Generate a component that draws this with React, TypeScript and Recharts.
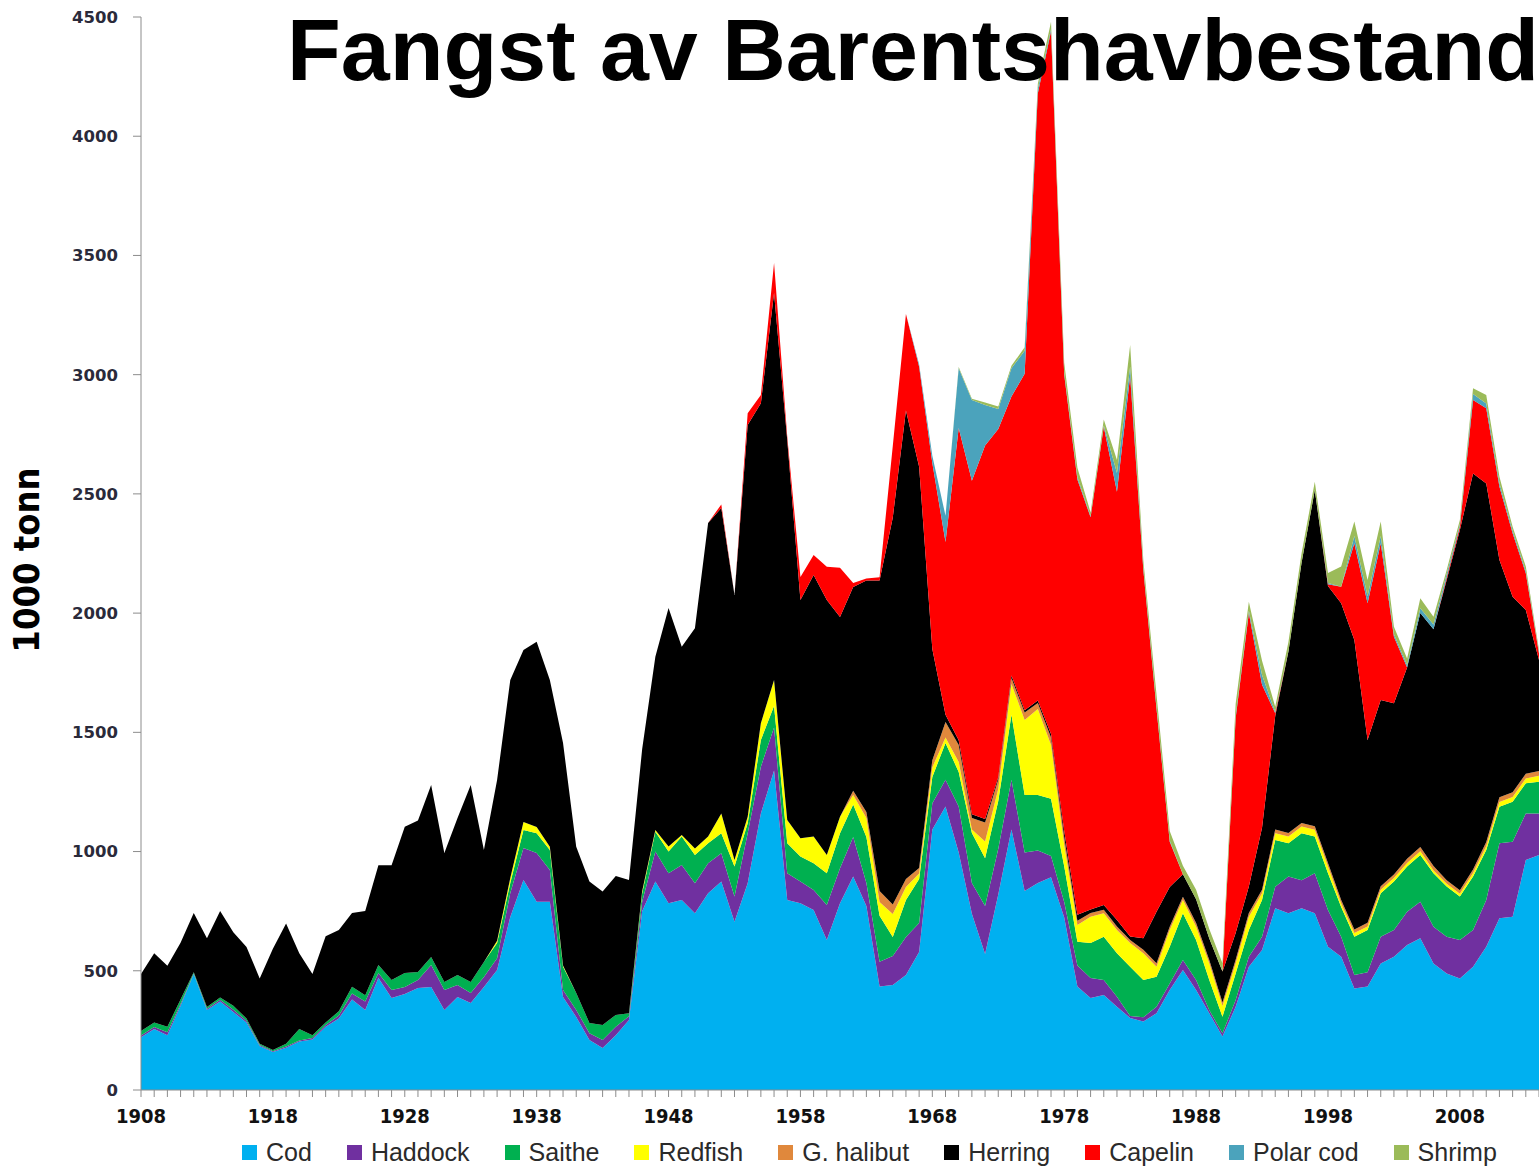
import { AreaChart, Area, XAxis, YAxis } from "recharts";

// Fangst av Barentshavbestand, 1000 tonn per år
const years = [
  1908, 1909, 1910, 1911, 1912, 1913, 1914, 1915, 1916, 1917,
  1918, 1919, 1920, 1921, 1922, 1923, 1924, 1925, 1926, 1927,
  1928, 1929, 1930, 1931, 1932, 1933, 1934, 1935, 1936, 1937,
  1938, 1939, 1940, 1941, 1942, 1943, 1944, 1945, 1946, 1947,
  1948, 1949, 1950, 1951, 1952, 1953, 1954, 1955, 1956, 1957,
  1958, 1959, 1960, 1961, 1962, 1963, 1964, 1965, 1966, 1967,
  1968, 1969, 1970, 1971, 1972, 1973, 1974, 1975, 1976, 1977,
  1978, 1979, 1980, 1981, 1982, 1983, 1984, 1985, 1986, 1987,
  1988, 1989, 1990, 1991, 1992, 1993, 1994, 1995, 1996, 1997,
  1998, 1999, 2000, 2001, 2002, 2003, 2004, 2005, 2006, 2007,
  2008, 2009, 2010, 2011, 2012, 2013, 2014,
];

const cod = [
  221, 256, 230, 353, 486, 336, 371, 327, 283, 185,
  159, 177, 203, 212, 265, 300, 380, 336, 470, 386,
  403, 428, 432, 336, 390, 365, 432, 503, 726, 881,
  789, 789, 390, 306, 210, 176, 230, 294, 750, 874,
  783, 797, 741, 825, 874, 706, 867, 1160, 1340, 797,
  783, 755, 629, 783, 895, 772, 434, 440, 482, 579,
  1093, 1189, 996, 739, 570, 820, 1093, 835, 868, 892,
  723, 434, 386, 398, 349, 302, 287, 322, 419, 503,
  419, 322, 224, 349, 517, 587, 762, 741, 762, 741,
  601, 559, 426, 434, 531, 559, 608, 636, 531, 489,
  468, 517, 601, 720, 727, 965, 986,
];

const haddock = [
  8, 8, 12, 8, 3, 5, 7, 10, 7, 4,
  4, 5, 5, 6, 8, 12, 25, 35, 21, 33,
  29, 33, 92, 83, 50, 42, 42, 50, 100, 134,
  205, 134, 29, 30, 28, 34, 35, 15, 40, 126,
  126, 147, 126, 126, 119, 105, 210, 196, 180, 112,
  91, 84, 147, 147, 166, 96, 104, 122, 160, 121,
  110, 112, 193, 129, 202, 192, 208, 161, 136, 89,
  65, 88, 84, 63, 42, 8, 18, 27, 28, 42,
  42, 13, 14, 28, 42, 56, 90, 154, 118, 168,
  154, 84, 56, 60, 112, 112, 140, 154, 154, 154,
  161, 154, 196, 315, 314, 195, 174,
];

const saithe = [
  18, 19, 23, 19, 5, 7, 10, 16, 10, 5,
  5, 12, 48, 12, 10, 18, 28, 26, 33, 42,
  59, 34, 34, 34, 42, 46, 63, 63, 42, 75,
  83, 84, 98, 71, 43, 63, 50, 13, 35, 83,
  91, 119, 119, 84, 84, 126, 42, 112, 90, 126,
  105, 112, 133, 147, 136, 193, 193, 80, 155, 185,
  110, 154, 145, 210, 200, 200, 273, 241, 233, 240,
  150, 100, 146, 182, 182, 207, 156, 126, 154, 196,
  168, 126, 69, 112, 112, 154, 196, 140, 197, 154,
  154, 124, 161, 177, 182, 203, 189, 196, 224, 210,
  182, 224, 210, 153, 168, 126, 133,
];

const redfish = [
  0, 0, 0, 0, 0, 0, 0, 0, 0, 0,
  0, 0, 0, 0, 0, 0, 0, 0, 0, 0,
  0, 0, 0, 0, 0, 0, 0, 10, 21, 34,
  26, 13, 5, 0, 0, 0, 0, 0, 10, 7,
  21, 6, 27, 28, 83, 28, 27, 70, 110, 97,
  77, 112, 77, 69, 40, 80, 57, 96, 54, 23,
  40, 23, 42, 15, 70, 50, 129, 315, 361, 226,
  90, 70, 111, 98, 98, 100, 112, 42, 70, 56,
  56, 70, 45, 42, 56, 28, 29, 28, 28, 28,
  28, 15, 15, 15, 15, 15, 15, 15, 12, 12,
  12, 15, 15, 20, 20, 20, 25,
];

const halibut = [
  0, 0, 0, 0, 0, 0, 0, 0, 0, 0,
  0, 0, 0, 0, 0, 0, 0, 0, 0, 0,
  0, 0, 0, 0, 0, 0, 0, 0, 0, 0,
  0, 0, 0, 0, 0, 0, 0, 0, 0, 0,
  0, 0, 0, 0, 0, 0, 0, 0, 0, 0,
  0, 0, 0, 0, 18, 25, 47, 40, 34, 23,
  30, 65, 71, 48, 80, 40, 25, 31, 25, 31,
  33, 18, 15, 15, 15, 12, 15, 15, 14, 13,
  15, 14, 15, 15, 15, 15, 15, 15, 15, 15,
  15, 15, 15, 15, 15, 15, 18, 18, 18, 15,
  15, 15, 18, 20, 20, 20, 20,
];

const herring = [
  239, 291, 256, 238, 248, 288, 363, 309, 300, 274,
  424, 504, 318, 256, 362, 341, 309, 354, 419, 482,
  613, 635, 721, 541, 659, 826, 470, 674, 831, 721,
  777, 700, 933, 613, 593, 559, 582, 559, 595, 727,
  1000, 790, 924, 1315, 1281, 1111, 1643, 1342, 1622, 1594,
  999, 1097, 1069, 838, 855, 971, 1302, 1622, 1965, 1683,
  467, 31, 20, 15, 15, 10, 10, 10, 10, 15,
  25, 25, 15, 20, 27, 15, 48, 216, 166, 95,
  100, 90, 130, 112, 111, 260, 476, 761, 1092, 1410,
  1162, 1244, 1214, 767, 781, 718, 802, 981, 993, 1259,
  1511, 1661, 1504, 995, 820, 687, 465,
];

const capelin = [
  0, 0, 0, 0, 0, 0, 0, 0, 0, 0,
  0, 0, 0, 0, 0, 0, 0, 0, 0, 0,
  0, 0, 0, 0, 0, 0, 0, 0, 0, 0,
  0, 0, 0, 0, 0, 0, 0, 0, 0, 0,
  0, 0, 0, 0, 15, 0, 49, 35, 126, 15,
  96, 84, 139, 206, 16, 8, 13, 300, 404, 419,
  780, 724, 1309, 1399, 1566, 1460, 1170, 1411, 2547, 2947,
  1914, 1825, 1645, 2006, 1796, 2350, 1545, 850, 190, 0,
  0, 0, 0, 902, 1147, 600, 12, 0, 0, 0,
  7, 70, 406, 573, 657, 279, 0, 0, 0, 10,
  13, 308, 315, 307, 266, 154, 28,
];

const polarCod = [
  0, 0, 0, 0, 0, 0, 0, 0, 0, 0,
  0, 0, 0, 0, 0, 0, 0, 0, 0, 0,
  0, 0, 0, 0, 0, 0, 0, 0, 0, 0,
  0, 0, 0, 0, 0, 0, 0, 0, 0, 0,
  0, 0, 0, 0, 0, 0, 0, 0, 0, 0,
  0, 0, 0, 0, 0, 0, 0, 0, 0, 10,
  30, 110, 251, 339, 170, 84, 119, 96, 20, 10,
  10, 10, 5, 5, 79, 40, 10, 10, 5, 0,
  0, 0, 0, 10, 10, 40, 5, 0, 0, 0,
  5, 0, 30, 30, 30, 10, 10, 20, 20, 15,
  10, 25, 20, 15, 10, 10, 4,
];

const shrimp = [
  0, 0, 0, 0, 0, 0, 0, 0, 0, 0,
  0, 0, 0, 0, 0, 0, 0, 0, 0, 0,
  0, 0, 0, 0, 0, 0, 0, 0, 0, 0,
  0, 0, 0, 0, 0, 0, 0, 0, 0, 0,
  0, 0, 0, 0, 0, 0, 0, 0, 0, 0,
  0, 0, 0, 0, 0, 0, 0, 0, 0, 0,
  0, 0, 5, 5, 10, 10, 10, 15, 20, 30,
  40, 40, 15, 25, 54, 90, 30, 50, 40, 35,
  40, 40, 35, 50, 38, 60, 22, 40, 40, 35,
  42, 84, 61, 68, 61, 32, 28, 42, 33, 17,
  19, 24, 36, 27, 17, 18, 10,
];

const yTicks = [0, 500, 1000, 1500, 2000, 2500, 3000, 3500, 4000, 4500];
const decadeLabels = [1908, 1918, 1928, 1938, 1948, 1958, 1968, 1978, 1988, 1998, 2008];

/** Artene i stabelrekkefølge (nederst først) */
const series = [
  { key: "cod", name: "Cod", color: "#00B0F0", values: cod },
  { key: "haddock", name: "Haddock", color: "#7030A0", values: haddock },
  { key: "saithe", name: "Saithe", color: "#00B050", values: saithe },
  { key: "redfish", name: "Redfish", color: "#FFFF00", values: redfish },
  { key: "halibut", name: "G. halibut", color: "#E0883C", values: halibut },
  { key: "herring", name: "Herring", color: "#000000", values: herring },
  { key: "capelin", name: "Capelin", color: "#FF0000", values: capelin },
  { key: "polarCod", name: "Polar cod", color: "#4BA3BC", values: polarCod },
  { key: "shrimp", name: "Shrimp", color: "#9BBB59", values: shrimp },
];

const data = years.map((year, i) => {
  const row: Record<string, number> = { year };
  series.forEach((s) => {
    row[s.key] = s.values[i];
  });
  return row;
});

const axisGrey = "#8c8c8c";
const narrowFont = "'Liberation Sans Narrow', 'DejaVu Sans Condensed', sans-serif";

export default function App() {
  return (
    <div
      style={{
        position: "absolute",
        left: 0,
        top: 0,
        width: 1539,
        height: 1166,
        background: "#fff",
        overflow: "hidden",
      }}
    >
      <AreaChart
        width={1539}
        height={1166}
        data={data}
        margin={{ top: 17, right: 0, bottom: 36, left: 0 }}
      >
        <XAxis
          dataKey="year"
          type="number"
          domain={[1908, 2014]}
          ticks={years}
          interval={0}
          height={40}
          tickSize={7}
          tickMargin={12}
          tickFormatter={(v: number) => (decadeLabels.includes(v) ? String(v) : "")}
          stroke={axisGrey}
          tick={{ fill: "#111", fontSize: 20, fontWeight: 700, fontFamily: narrowFont }}
        />
        <YAxis
          type="number"
          domain={[0, 4500]}
          ticks={yTicks}
          interval={0}
          width={141}
          tickSize={8}
          tickMargin={15}
          stroke={axisGrey}
          tick={{
            fill: "#2a2a3a",
            fontSize: 16.5,
            fontWeight: 700,
            fontFamily: "'DejaVu Sans', Verdana, sans-serif",
          }}
        />
        {series.map((s) => (
          <Area
            key={s.key}
            dataKey={s.key}
            name={s.name}
            stackId="fangst"
            type="linear"
            fill={s.color}
            fillOpacity={1}
            stroke="none"
            dot={false}
            activeDot={false}
            isAnimationActive={false}
          />
        ))}
      </AreaChart>

      {/* tittel og aksetittel oppå diagrammet */}
      <svg
        width={1539}
        height={1166}
        style={{ position: "absolute", left: 0, top: 0, pointerEvents: "none" }}
      >
        <text
          x={287}
          y={80}
          fontFamily="'Liberation Sans', Arial, sans-serif"
          fontWeight={700}
          fontSize={88}
          fill="#000"
        >
          Fangst av Barentshavbestand
        </text>
        <text
          x={0}
          y={0}
          transform="translate(39 560) rotate(-90)"
          textAnchor="middle"
          fontFamily={narrowFont}
          fontWeight={700}
          fontSize={36}
          fill="#000"
        >
          1000 tonn
        </text>
      </svg>

      {/* forklaring */}
      <div
        style={{
          position: "absolute",
          left: 242,
          top: 1137,
          height: 30,
          display: "flex",
          alignItems: "center",
          fontFamily: "'Liberation Sans', Arial, sans-serif",
          fontSize: 25,
          color: "#2a2a2a",
          whiteSpace: "nowrap",
        }}
      >
        {series.map((s) => (
          <div
            key={s.key}
            style={{ display: "flex", alignItems: "center", marginRight: 35 }}
          >
            <span
              style={{
                display: "inline-block",
                width: 15,
                height: 15,
                background: s.color,
                marginRight: 9,
              }}
            />
            <span>{s.name}</span>
          </div>
        ))}
      </div>
    </div>
  );
}
